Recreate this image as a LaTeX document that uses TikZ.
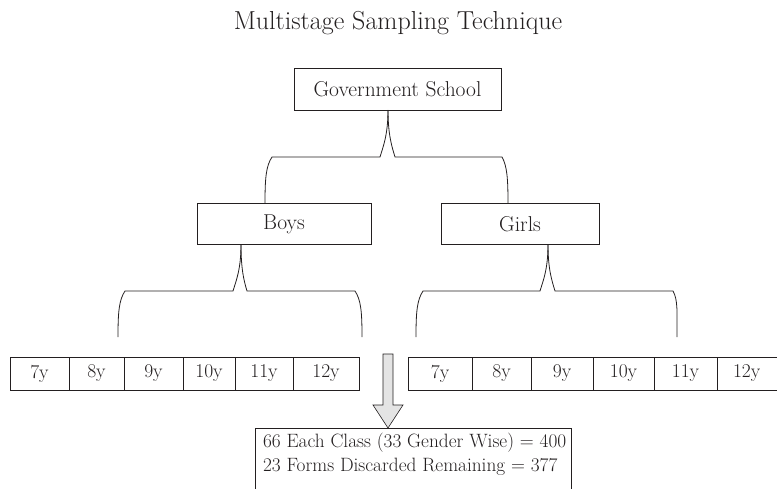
\documentclass[tikz,border=0pt]{standalone}
\usepackage{fontspec}
\usetikzlibrary{positioning,calc}
\definecolor{ink}{HTML}{231F20}
\definecolor{arrowfill}{HTML}{E4E4E4}
\begin{document}
\begin{tikzpicture}[x=1pt,y=-1pt,
  line width=0.8pt, draw=ink, text=ink,
  every node/.style={inner sep=0pt, outer sep=0pt},
  title/.style={font=\fontsize{26}{30}\selectfont},
  catbox/.style={draw=ink, font=\fontsize{21.5}{24}\selectfont},
  cell/.style={draw=ink, font=\fontsize{19.5}{22}\selectfont, minimum height=33pt},
  brace/.style={draw=ink, line width=0.8pt},
  noteline/.style={font=\fontsize{19.3}{24}\selectfont, align=left, anchor=north west}
]
\useasboundingbox (0,0) rectangle (777,488);

\node[title] (title) at (398,23) {Multistage Sampling Technique};

\node[catbox, minimum width=207pt, minimum height=42pt] (gs) at (397.5,89) {Government School};
\node[catbox, minimum width=174pt, minimum height=41pt] (boys) at (284,224) {Boys};
\node[catbox, minimum width=158pt, minimum height=41pt] (girls) at (520,224) {Girls};

% braces from Government School
\coordinate (gsL) at (380,157);
\coordinate (gsR) at (395,157);
\draw[brace] ([xshift=-9.5pt]gs.south) .. controls +(0,25) and +(3,-10) .. (gsL) -- (272,157)
   .. controls (266,166) and (265,178) .. ([xshift=-19pt]boys.north);
\draw[brace] ([xshift=-9.5pt]gs.south) .. controls +(0,25) and +(-3,-10) .. (gsR) -- (502,157)
   .. controls (507,166) and (508,178) .. ([xshift=-12pt]girls.north);

% left row
\node[cell, minimum width=59pt, anchor=north west] (b7)  at (10,357)  {7y};
\node[cell, minimum width=55pt, anchor=north west] (b8)  at (69,357)  {8y};
\node[cell, minimum width=59pt, anchor=north west] (b9)  at (124,357) {9y};
\node[cell, minimum width=52pt, anchor=north west] (b10) at (183,357) {10y};
\node[cell, minimum width=58pt, anchor=north west] (b11) at (235,357) {11y};
\node[cell, minimum width=66pt, anchor=north west] (b12) at (293,357) {12y};

% right row
\node[cell, minimum width=64pt, anchor=north west] (g7)  at (408,357) {7y};
\node[cell, minimum width=59pt, anchor=north west] (g8)  at (472,357) {8y};
\node[cell, minimum width=62pt, anchor=north west] (g9)  at (531,357) {9y};
\node[cell, minimum width=61pt, anchor=north west] (g10) at (593,357) {10y};
\node[cell, minimum width=63pt, anchor=north west] (g11) at (654,357) {11y};
\node[cell, minimum width=64pt, anchor=north west, text width=60pt, align=left] (g12) at (717,357) {\hspace*{14pt}12y};

% braces from Boys
\coordinate (bL) at (118,337);
\coordinate (bR) at (362,337);
\draw[brace] ([xshift=-43pt]boys.south) .. controls +(0,25) and +(3,-10) .. (233,291) -- (125,291)
   .. controls (119,300) and (118,312) .. (bL);
\draw[brace] ([xshift=-43pt]boys.south) .. controls +(0,25) and +(-3,-10) .. (247,291) -- (355,291)
   .. controls (361,300) and (362,312) .. (bR);

% braces from Girls
\coordinate (gL) at (416,337);
\coordinate (gR) at (677,337);
\draw[brace] ([xshift=28pt]girls.south) .. controls +(0,25) and +(3,-10) .. (540,291) -- (423,291)
   .. controls (417,300) and (416,312) .. (gL);
\draw[brace] ([xshift=28pt]girls.south) .. controls +(0,25) and +(-3,-10) .. (555,291) -- (673,291)
   .. controls (678,300) and (677,312) .. (gR);

% summary box
\node[draw=ink, minimum width=316pt, minimum height=70pt, anchor=north west] (sum) at (255,428) {};
\node[noteline] (l1) at (263,433) {66 Each Class (33 Gender Wise) = 400\\23 Forms Discarded Remaining = 377};

% block arrow
\draw[ink, fill=arrowfill, line width=0.6pt] (383,354) -- (393,354) -- (393,405) -- (403,405)
  -- (sum.north -| 388,0) -- (373,405) -- (383,405) -- cycle;
\end{tikzpicture}
\end{document}
